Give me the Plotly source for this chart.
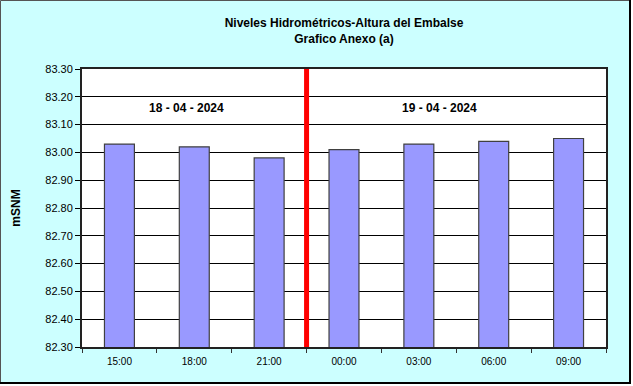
import plotly.graph_objects as go

categories = ["15:00", "18:00", "21:00", "00:00", "03:00", "06:00", "09:00"]
levels = [83.03, 83.02, 82.98, 83.01, 83.03, 83.04, 83.05]
y_ticks = [82.30, 82.40, 82.50, 82.60, 82.70, 82.80, 82.90, 83.00, 83.10, 83.20, 83.30]
date_labels = ["18 - 04 - 2024", "19 - 04 - 2024"]

W, H = 633, 386
L, R, T, B = 82, 606, 69, 347

def px_x(p):
    return (p - L) / (R - L)

def px_y(p):
    return (B - p) / (B - T)

fig = go.Figure()
fig.add_trace(go.Bar(
    x=categories, y=levels,
    marker=dict(color="#9999FF", line=dict(color="#404040", width=1.2)),
    width=0.4,
))

fig.update_layout(
    width=W, height=H,
    margin=dict(l=L, r=W - R, t=T, b=H - B),
    paper_bgcolor="#CCFFFF",
    plot_bgcolor="#FFFFFF",
    showlegend=False,
    font=dict(family="Liberation Sans, Arial, sans-serif", size=11, color="#000000"),
    title=dict(
        text="<b>Niveles Hidrométricos-Altura del Embalse<br>Grafico Anexo (a)</b>",
        x=0.5, xref="paper", xanchor="center",
        y=1 - 27 / H, yanchor="middle",
        font=dict(size=12, family="Liberation Sans, Arial, sans-serif"),
    ),
    xaxis=dict(
        type="category",
        showline=True, linecolor="#222222", linewidth=2, mirror=True,
        ticks="outside", tickson="boundaries", ticklen=4, tickcolor="#333333",
        showgrid=False,
        tickfont=dict(size=10),
        ticklabelstandoff=4,
    ),
    yaxis=dict(
        range=[82.30, 83.30],
        tickvals=y_ticks,
        ticktext=[f"{v:.2f}" for v in y_ticks],
        showline=True, linecolor="#222222", linewidth=2, mirror=True,
        ticks="outside", ticklen=5, tickcolor="#000000",
        showgrid=True, gridcolor="#000000", gridwidth=1,
        tickfont=dict(size=11),
        title=dict(text="<b>mSNM</b>", font=dict(size=12), standoff=22),
    ),
)

# outer border of the chart (thin grey left/top, dark shadow right/bottom)
fig.add_shape(type="rect", xref="paper", yref="paper",
              x0=px_x(0.5), x1=px_x(630), y0=px_y(383), y1=px_y(0.5),
              line=dict(color="#555555", width=1), fillcolor="rgba(0,0,0,0)")
fig.add_shape(type="line", xref="paper", yref="paper",
              x0=px_x(630), x1=px_x(630), y0=px_y(383.5), y1=px_y(0),
              line=dict(color="#000000", width=2))
fig.add_shape(type="line", xref="paper", yref="paper",
              x0=px_x(0), x1=px_x(631), y0=px_y(383), y1=px_y(383),
              line=dict(color="#000000", width=2))
# white margin outside the border
fig.add_shape(type="rect", xref="paper", yref="paper",
              x0=px_x(631), x1=px_x(634), y0=px_y(387), y1=px_y(-1),
              line=dict(width=0), fillcolor="#FFFFFF")
fig.add_shape(type="rect", xref="paper", yref="paper",
              x0=px_x(-1), x1=px_x(634), y0=px_y(387), y1=px_y(384),
              line=dict(width=0), fillcolor="#FFFFFF")

# red separator between the two days
fig.add_shape(type="line", xref="x", yref="paper", x0=2.5, x1=2.5, y0=0, y1=1,
              line=dict(color="#FF0000", width=5))

# date annotations
fig.add_annotation(x=0.89, y=83.16, xref="x", yref="y", text="<b>" + date_labels[0] + "</b>",
                   showarrow=False, font=dict(size=12))
fig.add_annotation(x=4.27, y=83.16, xref="x", yref="y", text="<b>" + date_labels[1] + "</b>",
                   showarrow=False, font=dict(size=12))

fig.write_html("out.html", config={"displayModeBar": False},
               post_script="document.body.style.margin='0';document.body.style.overflow='hidden';")
